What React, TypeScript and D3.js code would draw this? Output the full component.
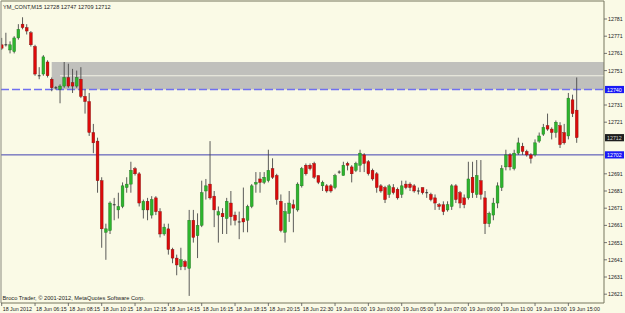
import React from "react";
import * as d3 from "d3";

// ---- data ----
const timeLabels = [
  "18 Jun 2012", "18 Jun 06:15", "18 Jun 08:15", "18 Jun 10:15", "18 Jun 12:15", "18 Jun 14:15",
  "18 Jun 16:15", "18 Jun 18:15", "18 Jun 20:15", "18 Jun 22:30", "19 Jun 01:00", "19 Jun 03:00",
  "19 Jun 05:00", "19 Jun 07:00", "19 Jun 09:00", "19 Jun 11:00", "19 Jun 13:00", "19 Jun 15:00",
];
const labelEvery = 8;

const opens = [
  12766, 12766, 12763, 12762, 12770, 12778, 12776, 12773, 12765, 12748,
  12749, 12756, 12746, 12741, 12740, 12742, 12747, 12744, 12742, 12746,
  12736, 12733, 12715, 12710, 12687, 12657, 12658, 12673, 12670, 12672,
  12683, 12685, 12694, 12691, 12670, 12675, 12667, 12677, 12669, 12656,
  12659, 12647, 12642, 12637, 12640, 12636, 12664, 12655, 12661, 12681,
  12685, 12678, 12667, 12668, 12665, 12674, 12667, 12663, 12665, 12664,
  12672, 12685, 12688, 12686, 12687, 12694, 12690, 12675, 12657, 12668,
  12673, 12670, 12684, 12696, 12696, 12697, 12690, 12684, 12684, 12684,
  12683, 12692, 12690, 12697, 12695, 12693, 12696, 12702, 12698, 12693,
  12691, 12684, 12683, 12679, 12683, 12682, 12679, 12685, 12685, 12684,
  12681, 12683, 12680, 12679, 12677, 12673, 12673, 12670, 12672, 12684,
  12680, 12677, 12677, 12689, 12679, 12687, 12677, 12662, 12667, 12674,
  12683, 12695, 12702, 12694, 12703, 12707, 12704, 12702, 12702, 12710,
  12714, 12719, 12717, 12715, 12719, 12715, 12713, 12734, 12728,
];
const highs = [
  12770, 12773, 12768, 12771, 12778, 12782, 12778, 12774, 12766, 12753,
  12760, 12757, 12747, 12742, 12743, 12756, 12755, 12752, 12751, 12753,
  12740, 12738, 12720, 12712, 12689, 12662, 12675, 12677, 12680, 12686,
  12689, 12698, 12695, 12692, 12676, 12677, 12678, 12678, 12671, 12662,
  12662, 12648, 12644, 12648, 12641, 12670, 12670, 12668, 12687, 12688,
  12710, 12681, 12672, 12671, 12677, 12681, 12669, 12669, 12683, 12673,
  12685, 12692, 12692, 12692, 12705, 12700, 12691, 12679, 12674, 12681,
  12676, 12686, 12695, 12697, 12697, 12698, 12690, 12687, 12685, 12685,
  12691, 12693, 12698, 12698, 12696, 12698, 12705, 12703, 12699, 12694,
  12692, 12685, 12684, 12685, 12685, 12683, 12687, 12687, 12686, 12685,
  12683, 12683, 12682, 12680, 12679, 12674, 12675, 12675, 12685, 12685,
  12681, 12679, 12698, 12698, 12699, 12699, 12681, 12669, 12677, 12686,
  12696, 12705, 12703, 12705, 12712, 12709, 12705, 12703, 12711, 12715,
  12720, 12726, 12718, 12722, 12721, 12720, 12738, 12737, 12747,
];
const lows = [
  12763, 12765, 12761, 12761, 12769, 12775, 12772, 12765, 12748, 12746,
  12748, 12747, 12739, 12740, 12732, 12741, 12741, 12738, 12741, 12735,
  12726, 12713, 12703, 12680, 12648, 12641, 12656, 12664, 12665, 12671,
  12680, 12680, 12690, 12672, 12665, 12664, 12665, 12667, 12654, 12655,
  12644, 12639, 12632, 12635, 12635, 12620, 12651, 12642, 12660, 12676,
  12676, 12660, 12651, 12656, 12656, 12661, 12661, 12653, 12657, 12657,
  12671, 12680, 12680, 12685, 12686, 12688, 12673, 12657, 12651, 12663,
  12657, 12669, 12683, 12690, 12693, 12688, 12685, 12681, 12680, 12680,
  12682, 12691, 12690, 12693, 12686, 12692, 12692, 12692, 12690, 12687,
  12680, 12680, 12674, 12677, 12679, 12676, 12677, 12682, 12681, 12680,
  12679, 12679, 12677, 12675, 12670, 12670, 12667, 12669, 12670, 12674,
  12671, 12671, 12676, 12677, 12677, 12676, 12656, 12660, 12664, 12671,
  12681, 12693, 12693, 12693, 12702, 12702, 12701, 12697, 12701, 12709,
  12713, 12716, 12711, 12712, 12706, 12708, 12711, 12724, 12709,
];
const closes = [
  12764, 12766, 12766, 12770, 12775, 12776, 12774, 12766, 12749, 12748,
  12759, 12748, 12741, 12741, 12742, 12747, 12742, 12742, 12747, 12736,
  12733, 12715, 12709, 12687, 12659, 12659, 12674, 12673, 12672, 12684,
  12685, 12693, 12691, 12674, 12675, 12670, 12676, 12669, 12656, 12660,
  12647, 12642, 12638, 12641, 12637, 12664, 12654, 12661, 12680, 12684,
  12677, 12670, 12669, 12666, 12675, 12666, 12664, 12663, 12663, 12672,
  12684, 12686, 12686, 12689, 12693, 12689, 12676, 12658, 12669, 12674,
  12671, 12685, 12694, 12691, 12694, 12689, 12686, 12686, 12681, 12681,
  12690, 12692, 12696, 12696, 12691, 12697, 12703, 12697, 12691, 12688,
  12683, 12681, 12676, 12684, 12680, 12677, 12684, 12683, 12683, 12681,
  12681, 12680, 12680, 12676, 12674, 12672, 12669, 12673, 12684, 12676,
  12674, 12673, 12688, 12680, 12690, 12679, 12662, 12668, 12674, 12684,
  12694, 12702, 12695, 12703, 12709, 12704, 12702, 12700, 12709, 12713,
  12718, 12717, 12715, 12721, 12708, 12709, 12735, 12726, 12712,
];

const priceTicks = [12781, 12771, 12761, 12751, 12731, 12721, 12691, 12681, 12671, 12661, 12651, 12641, 12631, 12621];
const zoneTop = 12756;
const zoneBottom = 12740;
const zoneStartBar = 12;
const innerLevel = 12748;
const innerStartBar = 14;
const dashedLevel = 12740;
const solidLevel = 12702;
const currentPrice = 12712;
const headerText = "YM_CONT,M15  12728 12747 12709 12712";
const footerText = "Broco Trader, \u00A9 2001-2012, MetaQuotes Software Corp.";

// ---- layout ----
const W = 625;
const H = 313;
const PL = 1, PR = 604, PT = 1, PB = 303;
const FONT = "'Liberation Sans', Arial, sans-serif";

export default function App() {
  const n = opens.length;
  const x = d3.scaleLinear().domain([0, n - 1]).range([1.7, 576.7]);
  const y = d3.scaleLinear().domain([12621, 12781]).range([294.2, 19]);
  const bw = 2.8;
  const bars = d3.range(n);

  const tag = (price: number, bg: string, fg: string) => (
    <g key={"tag" + price}>
      <rect x={605} y={y(price) - 3.6} width={19} height={7.2} fill={bg} />
      <text x={607} y={y(price) + 2} fontSize={5.3} fill={fg} fontFamily={FONT}>{price}</text>
    </g>
  );

  return (
    <svg width={W} height={H} style={{ position: "absolute", left: 0, top: 0, display: "block" }}>
      <defs>
        <clipPath id="plotClip">
          <rect x={PL} y={PT} width={PR - PL} height={PB - PT} />
        </clipPath>
      </defs>
      <rect x={0} y={0} width={W} height={H} fill="#FAFAE6" />
      <g clipPath="url(#plotClip)">
        <rect x={x(zoneStartBar)} y={y(zoneTop)} width={PR - x(zoneStartBar)} height={y(zoneBottom) - y(zoneTop)} fill="#C0C0BC" />
        <line x1={x(innerStartBar)} x2={PR} y1={y(innerLevel)} y2={y(innerLevel)} stroke="#F2F2E4" strokeWidth={1.2} />
        <line x1={PL} x2={PR} y1={y(dashedLevel)} y2={y(dashedLevel)} stroke="#7070F0" strokeWidth={1.3} strokeDasharray="8,3" />
        <line x1={PL} x2={PR} y1={y(solidLevel)} y2={y(solidLevel)} stroke="#4040B0" strokeWidth={1} />
        {bars.map((i) => {
          const o = opens[i], c = closes[i], h = highs[i], l = lows[i];
          const cx = x(i);
          const up = c > o;
          const top = y(Math.max(o, c));
          const bot = y(Math.min(o, c));
          return (
            <g key={i}>
              <line x1={cx} x2={cx} y1={y(h)} y2={y(l)} stroke="#4a4a4a" strokeWidth={0.9} />
              {o === c ? (
                <line x1={cx - bw / 2} x2={cx + bw / 2} y1={top} y2={top} stroke="#333" strokeWidth={1} />
              ) : (
                <rect x={cx - bw / 2} y={top} width={bw} height={Math.max(bot - top, 1)}
                  fill={up ? "#2DB52D" : "#DD0A0A"} stroke={up ? "#1E6E1E" : "#7A1010"} strokeWidth={0.4} />
              )}
            </g>
          );
        })}
      </g>
      {/* frame */}
      <line x1={PL} x2={PR} y1={PT} y2={PT} stroke="#76765E" strokeWidth={1} />
      <line x1={PL} x2={PL} y1={PT} y2={PB} stroke="#8A8A80" strokeWidth={1} />
      <line x1={PL} x2={PR} y1={PB} y2={PB} stroke="#76765E" strokeWidth={1} />
      <line x1={PR} x2={PR} y1={PT} y2={PB} stroke="#76765E" strokeWidth={1} />
      {/* price axis */}
      {priceTicks.map((p) => (
        <g key={p}>
          <line x1={PR} x2={PR + 3} y1={y(p)} y2={y(p)} stroke="#555" strokeWidth={0.8} />
          <text x={608} y={y(p) + 2} fontSize={5.3} fill="#222" fontFamily={FONT}>{p}</text>
        </g>
      ))}
      {tag(dashedLevel, "#1A1AF5", "#FFFFFF")}
      {tag(currentPrice, "#1E1E1E", "#D8D8D8")}
      {tag(solidLevel, "#1A1AF5", "#FFFFFF")}
      {/* time axis */}
      {timeLabels.map((t, k) => {
        const xi = x(k * labelEvery);
        return (
          <g key={t}>
            <line x1={xi} x2={xi} y1={PB} y2={PB + 3} stroke="#555" strokeWidth={0.8} />
            <text x={xi + 1} y={310.5} fontSize={5.3} fill="#222" fontFamily={FONT}>{t}</text>
          </g>
        );
      })}
      <text x={3} y={9} fontSize={5.6} fill="#222" fontFamily={FONT}>{headerText}</text>
      <text x={2.5} y={300} fontSize={5.7} fill="#222" fontFamily={FONT}>{footerText}</text>
    </svg>
  );
}
